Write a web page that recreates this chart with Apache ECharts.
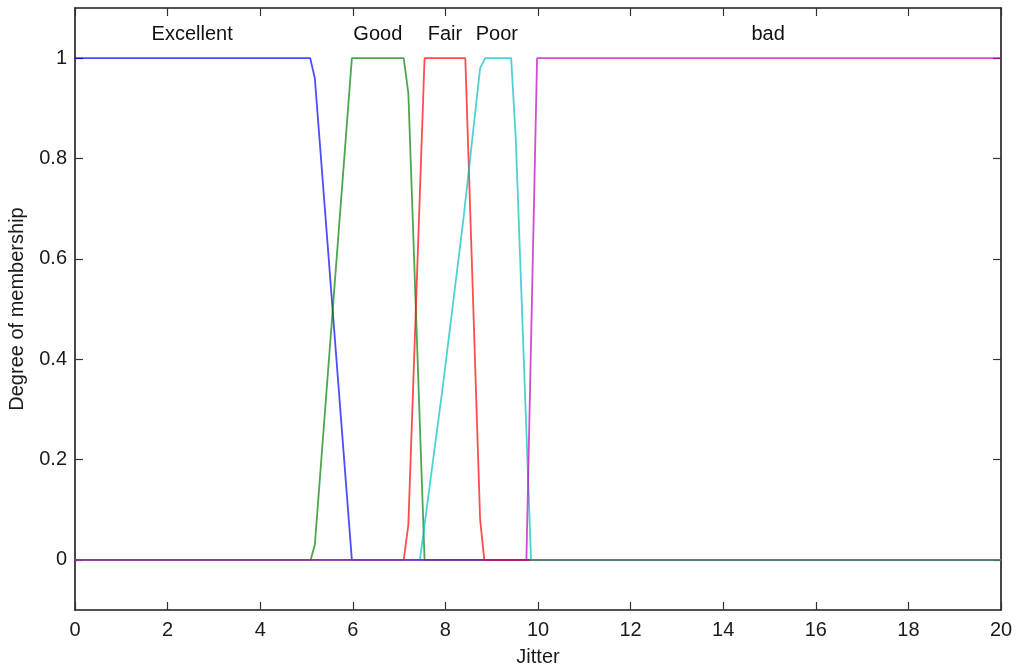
<!DOCTYPE html>
<html>
<head>
<meta charset="utf-8">
<script src="https://cdn.jsdelivr.net/npm/echarts@6/dist/echarts.min.js"></script>
<style>
html,body{margin:0;padding:0;background:#fff;}
#chart{width:1019px;height:669px;}
</style>
</head>
<body>
<div id="chart"></div>
<script>
// Membership function vertices [jitter, degree]
var excellent = [[0,1],[5.08,1],[5.18,0.96],[5.98,0],[20,0]];
var good = [[0,0],[5.09,0],[5.18,0.03],[5.98,1],[7.1,1],[7.2,0.93],[7.55,0],[20,0]];
var fair = [[0,0],[7.1,0],[7.2,0.07],[7.55,1],[8.43,1],[8.75,0.08],[8.84,0],[20,0]];
var poor = [[0,0],[7.45,0],[7.95,0.35],[8.39,0.68],[8.75,0.98],[8.86,1],[9.42,1],[9.52,0.84],[9.85,0],[20,0]];
var bad = [[0,0],[9.75,0],[9.98,1],[20,1]];

var seriesNames = ['Excellent','Good','Fair','Poor','bad'];
var seriesColors = ['#0000ff','#008000','#ff0000','#00bfbf','#bf00bf'];
var seriesData = [excellent, good, fair, poor, bad];

// MF labels drawn above the curves
var labelText = ['Excellent','Good','Fair','Poor','bad'];
var labelX = [2.53, 6.54, 7.99, 9.11, 14.97];
var labelY = [1.048, 1.048, 1.048, 1.048, 1.048];

var xTicks = [0,2,4,6,8,10,12,14,16,18,20];
var yTicks = [0,0.2,0.4,0.6,0.8,1];

var FONT = 'Liberation Sans, Arial, Helvetica, sans-serif';

var chart = echarts.init(document.getElementById('chart'), null, {renderer:'canvas'});

var series = seriesData.map(function(d, i){
  return {
    name: seriesNames[i], type: 'line', data: d, symbol: 'none',
    lineStyle: {color: seriesColors[i], width: 1.8, opacity: 0.7},
    itemStyle: {color: seriesColors[i]},
    z: 2 + i, animation: false
  };
});
series.push({
  type: 'scatter', symbolSize: 0, z: 20, animation: false, silent: true,
  itemStyle: {opacity: 1, color: '#111'},
  data: labelX.map(function(x, i){ return {value:[x, labelY[i]], name: labelText[i]}; }),
  label: {show: true, position: 'inside', formatter: function(p){ return p.name; },
          color: '#111', opacity: 1, textBorderWidth: 0, fontSize: 20, fontFamily: FONT}
});

var axisLine = {show: true, onZero: false, lineStyle: {color: '#1a1a1a', width: 1.6}};
var tickLine = {color: '#333', width: 1.2};

var option = {
  backgroundColor: '#fff',
  animation: false,
  grid: {left: 75, right: 18, top: 8, bottom: 59, containLabel: false, outerBoundsMode: 'none'},
  xAxis: [{
    type: 'value', min: 0, max: 20, interval: 2, position: 'bottom',
    name: 'Jitter', nameLocation: 'middle', nameGap: 37,
    nameTextStyle: {color: '#1a1a1a', fontSize: 20, fontFamily: FONT},
    axisLine: axisLine,
    axisTick: {show: true, inside: true, length: 8, lineStyle: tickLine},
    axisLabel: {color: '#1a1a1a', fontSize: 20, fontFamily: FONT, margin: 10},
    splitLine: {show: false}
  },{
    type: 'value', min: 0, max: 20, interval: 2, position: 'top',
    axisLine: axisLine,
    axisTick: {show: true, inside: true, length: 8, lineStyle: tickLine},
    axisLabel: {show: false}, splitLine: {show: false}
  }],
  yAxis: [{
    type: 'value', min: -0.1, max: 1.1, position: 'left',
    name: 'Degree of membership', nameLocation: 'middle', nameGap: 48, nameRotate: 90,
    nameTextStyle: {color: '#1a1a1a', fontSize: 20, fontFamily: FONT},
    axisLine: axisLine,
    axisTick: {show: true, inside: true, length: 8, customValues: yTicks, lineStyle: tickLine},
    axisLabel: {color: '#1a1a1a', fontSize: 20, fontFamily: FONT, margin: 8, customValues: yTicks,
      formatter: function(v){ return String(Math.round(v*10)/10); }},
    splitLine: {show: false}
  },{
    type: 'value', min: -0.1, max: 1.1, position: 'right',
    axisLine: axisLine,
    axisTick: {show: true, inside: true, length: 8, customValues: yTicks, lineStyle: tickLine},
    axisLabel: {show: false, customValues: yTicks}, splitLine: {show: false}
  }],
  series: series
};
chart.setOption(option);
</script>
</body>
</html>
